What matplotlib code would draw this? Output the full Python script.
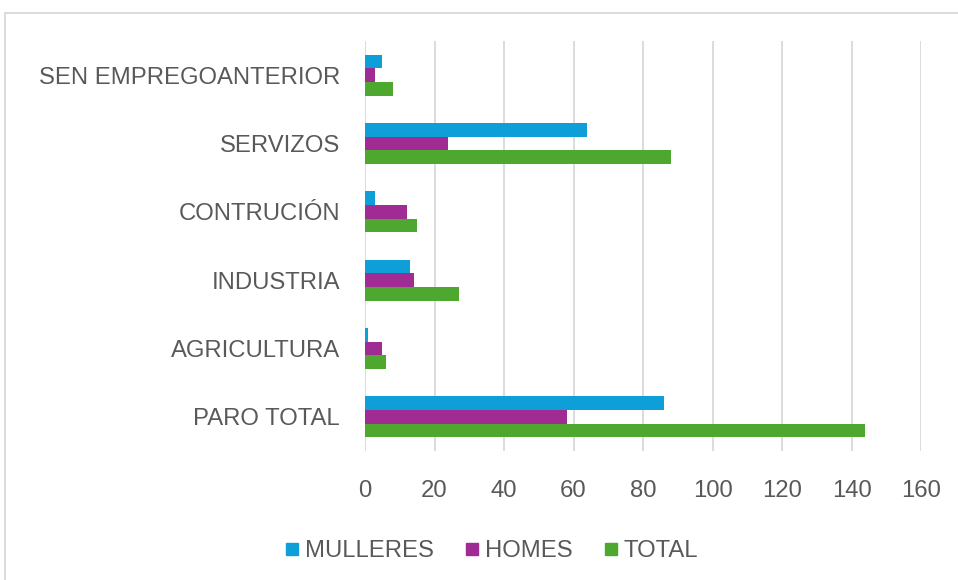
import numpy as np
import matplotlib.pyplot as plt
from matplotlib.lines import Line2D

# datos (de abaixo a arriba)
categorias = ["PARO TOTAL", "AGRICULTURA", "INDUSTRIA", "CONTRUCIÓN", "SERVIZOS", "SEN EMPREGOANTERIOR"]
mulleres = [86, 1, 13, 3, 64, 5]
homes = [58, 5, 14, 12, 24, 3]
total = [144, 6, 27, 15, 88, 8]

series = ["MULLERES", "HOMES", "TOTAL"]
cores = ["#0e9fd8", "#a02b93", "#4ea72e"]

plt.rcParams['font.family'] = ['Liberation Sans', 'DejaVu Sans']

fig = plt.figure(figsize=(9.58, 5.8), dpi=100)
ax = fig.add_axes([0.381, 0.2224, 0.5804, 0.7069])

y = np.arange(len(categorias))
h = 0.2
for i, (vals, nome, cor) in enumerate(zip([mulleres, homes, total], series, cores)):
	ax.barh(y + h - i * h, vals, height=h, color=cor, label=nome, zorder=3)

ax.set_xlim(0, 160)
ax.set_ylim(-0.5, len(categorias) - 0.5)
ax.set_xticks(np.arange(0, 161, 20))
ax.set_yticks(y)
ax.set_yticklabels(categorias)
ax.grid(axis='x', color='#d9d9d9', linewidth=1.3, zorder=0)
for s in ax.spines.values():
	s.set_visible(False)
ax.tick_params(axis='both', length=0, labelsize=17.2, colors='#595959')
ax.tick_params(axis='x', pad=21)
ax.tick_params(axis='y', pad=18)

# lenda
handles = [Line2D([], [], marker='s', linestyle='none', markersize=8, color=c) for c in cores]
fig.legend(handles, series, loc='center', bbox_to_anchor=(0.513, 0.05), ncol=3, frameon=False,
	fontsize=17.2, labelcolor='#595959', handlelength=0.6, handletextpad=0.25, columnspacing=1.3)

# bordo do grafico
fig.add_artist(Line2D([5/958, 1], [1 - 13/580, 1 - 13/580], transform=fig.transFigure, color='#d9d9d9', lw=1.3))
fig.add_artist(Line2D([5/958, 5/958], [0, 1 - 13/580], transform=fig.transFigure, color='#d9d9d9', lw=1.3))

plt.savefig('out.png', dpi=100)
